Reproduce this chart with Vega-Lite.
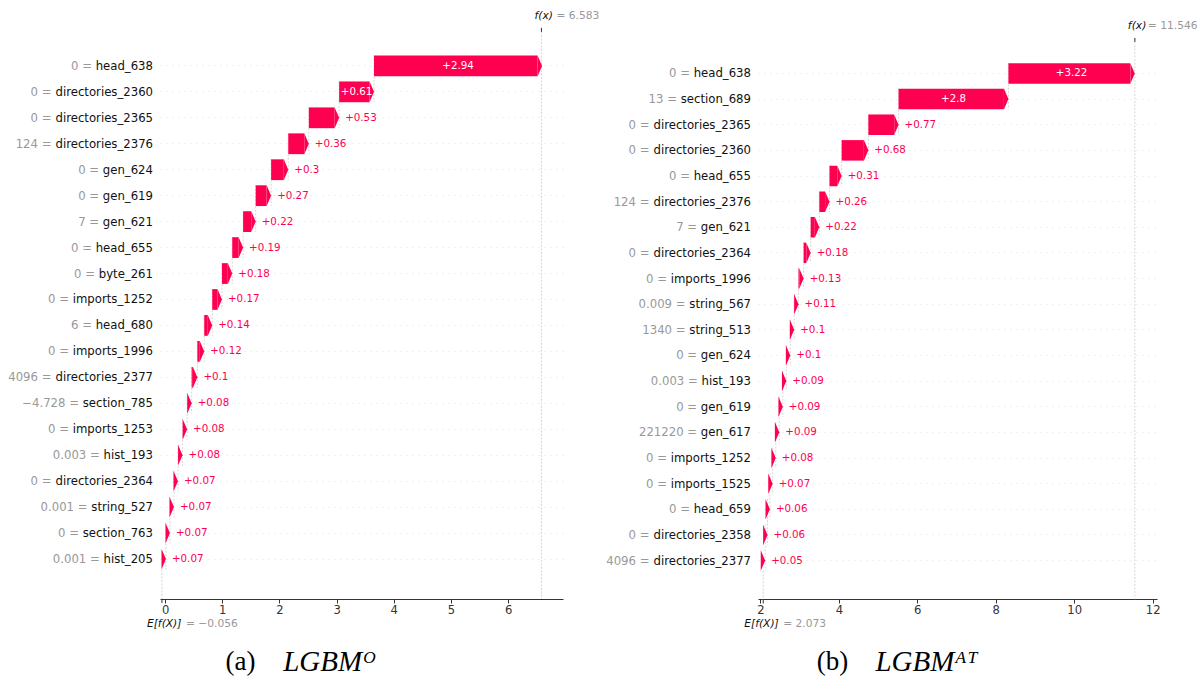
{
  "$schema": "https://vega.github.io/schema/vega-lite/v6.json",
  "background": "white",
  "padding": {"left": 8, "top": 9, "right": 0, "bottom": 0},
  "config": {"view": {"stroke": null}, "font": "DejaVu Sans"},
  "bounds": "flush",
  "spacing": 195,
  "datasets": {
    "a": [
      {"val": "0", "feature": "head_638", "shap": 2.94},
      {"val": "0", "feature": "directories_2360", "shap": 0.61},
      {"val": "0", "feature": "directories_2365", "shap": 0.53},
      {"val": "124", "feature": "directories_2376", "shap": 0.36},
      {"val": "0", "feature": "gen_624", "shap": 0.3},
      {"val": "0", "feature": "gen_619", "shap": 0.27},
      {"val": "7", "feature": "gen_621", "shap": 0.22},
      {"val": "0", "feature": "head_655", "shap": 0.19},
      {"val": "0", "feature": "byte_261", "shap": 0.18},
      {"val": "0", "feature": "imports_1252", "shap": 0.17},
      {"val": "6", "feature": "head_680", "shap": 0.14},
      {"val": "0", "feature": "imports_1996", "shap": 0.12},
      {"val": "4096", "feature": "directories_2377", "shap": 0.1},
      {"val": "−4.728", "feature": "section_785", "shap": 0.08},
      {"val": "0", "feature": "imports_1253", "shap": 0.08},
      {"val": "0.003", "feature": "hist_193", "shap": 0.08},
      {"val": "0", "feature": "directories_2364", "shap": 0.07},
      {"val": "0.001", "feature": "string_527", "shap": 0.07},
      {"val": "0", "feature": "section_763", "shap": 0.07},
      {"val": "0.001", "feature": "hist_205", "shap": 0.07}
    ],
    "b": [
      {"val": "0", "feature": "head_638", "shap": 3.22},
      {"val": "13", "feature": "section_689", "shap": 2.8},
      {"val": "0", "feature": "directories_2365", "shap": 0.77},
      {"val": "0", "feature": "directories_2360", "shap": 0.68},
      {"val": "0", "feature": "head_655", "shap": 0.31},
      {"val": "124", "feature": "directories_2376", "shap": 0.26},
      {"val": "7", "feature": "gen_621", "shap": 0.22},
      {"val": "0", "feature": "directories_2364", "shap": 0.18},
      {"val": "0", "feature": "imports_1996", "shap": 0.13},
      {"val": "0.009", "feature": "string_567", "shap": 0.11},
      {"val": "1340", "feature": "string_513", "shap": 0.1},
      {"val": "0", "feature": "gen_624", "shap": 0.1},
      {"val": "0.003", "feature": "hist_193", "shap": 0.09},
      {"val": "0", "feature": "gen_619", "shap": 0.09},
      {"val": "221220", "feature": "gen_617", "shap": 0.09},
      {"val": "0", "feature": "imports_1252", "shap": 0.08},
      {"val": "0", "feature": "imports_1525", "shap": 0.07},
      {"val": "0", "feature": "head_659", "shap": 0.06},
      {"val": "0", "feature": "directories_2358", "shap": 0.06},
      {"val": "4096", "feature": "directories_2377", "shap": 0.05}
    ]
  },
  "hconcat": [
    {
      "width": 403,
      "height": 571,
      "data": {"name": "a"},
      "transform": [
        {"window": [{"op": "sum", "field": "shap", "as": "below"}], "frame": [1, null]},
        {"window": [{"op": "lead", "field": "feature", "as": "next"}]},
        {"calculate": "-0.056 + (datum.below || 0)", "as": "start"},
        {"calculate": "datum.start + datum.shap", "as": "end"},
        {"calculate": "datum.start + datum.shap / 2", "as": "mid"},
        {"calculate": "datum.val + ' ='", "as": "vlab"},
        {"calculate": "'+' + datum.shap", "as": "txt"},
        {"calculate": "(1300*length(datum.feature) - 731*length(replace(datum.feature, regexp('[^il]','g'), '')) - 458*length(replace(datum.feature, regexp('[^r]','g'), '')) - 497*length(replace(datum.feature, regexp('[^t]','g'), '')) - 233*length(replace(datum.feature, regexp('[^s]','g'), '')) - 174*length(replace(datum.feature, regexp('[^c]','g'), '')) - 276*length(replace(datum.feature, regexp('[^_]','g'), '')) + 695*length(replace(datum.feature, regexp('[^m]','g'), '')) - 88*length(replace(datum.feature, regexp('[^y]','g'), '')) - 43*length(replace(datum.feature, regexp('[^aeo]','g'), ''))) * 11.7 / 2048", "as": "w"},
        {"calculate": "-0.09 - (7 + 3.72 + datum.w) / 57.163", "as": "labx"}
      ],
      "title": {"text": "(a)", "orient": "bottom", "anchor": "middle", "dx": -121, "offset": -27, "font": "Liberation Serif", "fontSize": 27, "fontWeight": "normal", "color": "#000000"},
      "layer": [
        {
          "transform": [{"filter": "datum.next != null"}],
          "mark": {"type": "rule", "color": "#bbbbbb", "strokeWidth": 0.6, "strokeDash": [2, 1.5], "yOffset": -10.4, "y2Offset": 10.4},
          "encoding": {
            "x": {"field": "start", "type": "quantitative",
              "scale": {"domain": [-0.09, 6.96], "nice": false, "zero": false},
              "axis": {"values": [0, 1, 2, 3, 4, 5, 6], "format": "d", "grid": false, "domainColor": "#333333", "tickColor": "#333333", "tickSize": 4, "labelColor": "#333333", "labelFont": "DejaVu Sans", "labelFontSize": 11.6, "labelPadding": 1, "labelFlush": false,
                "title": "LGBMᴼ", "titleFont": "Liberation Serif", "titleFontStyle": "italic", "titleFontWeight": "normal", "titleFontSize": 29, "titleColor": "#000000", "titleX": 169, "titleY": 62, "titleBaseline": "middle", "titleAlign": "center"}},
            "y": {"field": "feature", "type": "nominal", "sort": null,
              "scale": {"type": "band", "paddingInner": 0, "paddingOuter": 1, "align": 0.48},
              "axis": {"title": null, "labels": false, "ticks": false, "domain": false, "grid": true, "gridColor": "#cccccc", "gridWidth": 0.6, "gridDash": [1, 5], "bandPosition": 0.5}},
            "y2": {"field": "next"}
          }
        },
        {
          "transform": [{"filter": "datum.feature == 'head_638'"}],
          "mark": {"type": "rule", "color": "#bbbbbb", "strokeWidth": 0.6, "strokeDash": [2, 1.5], "yOffset": -38, "y2Offset": 40},
          "encoding": {
            "x": {"datum": 6.583, "type": "quantitative"},
            "y": {"field": "feature", "type": "nominal", "sort": null},
            "y2": {"datum": "hist_205"}
          }
        },
        {
          "transform": [{"filter": "datum.feature == 'head_638'"}],
          "mark": {"type": "rule", "color": "#333333", "strokeWidth": 1, "yOffset": -38, "y2Offset": -34},
          "encoding": {
            "x": {"datum": 6.583, "type": "quantitative"},
            "y": {"field": "feature", "type": "nominal", "sort": null},
            "y2": {"field": "feature"}
          }
        },
        {
          "transform": [{"filter": "datum.feature == 'hist_205'"}],
          "mark": {"type": "rule", "color": "#bbbbbb", "strokeWidth": 0.6, "strokeDash": [2, 1.5], "yOffset": 10.4, "y2Offset": 40},
          "encoding": {
            "x": {"datum": -0.056, "type": "quantitative"},
            "y": {"field": "feature", "type": "nominal", "sort": null},
            "y2": {"field": "feature"}
          }
        },
        {
          "transform": [{"filter": "datum.feature == 'hist_205'"}],
          "mark": {"type": "rule", "color": "#333333", "strokeWidth": 1, "yOffset": 40, "y2Offset": 44},
          "encoding": {
            "x": {"datum": -0.056, "type": "quantitative"},
            "y": {"field": "feature", "type": "nominal", "sort": null},
            "y2": {"field": "feature"}
          }
        },
        {
          "transform": [{"filter": "datum.shap >= 0.1"}],
          "mark": {"type": "bar", "color": "#ff0051", "height": {"band": 0.8}, "x2Offset": -4.5},
          "encoding": {
            "x": {"field": "start", "type": "quantitative"},
            "x2": {"field": "end"},
            "y": {"field": "feature", "type": "nominal", "sort": null}
          }
        },
        {
          "mark": {"type": "point", "shape": "M -0.43 -1 L 0 0 L -0.43 1 Z", "filled": true, "opacity": 1, "color": "#ff0051", "size": 431, "strokeWidth": 0},
          "encoding": {
            "x": {"field": "end", "type": "quantitative"},
            "y": {"field": "feature", "type": "nominal", "sort": null}
          }
        },
        {
          "transform": [{"filter": "datum.shap >= 0.6"}],
          "mark": {"type": "text", "color": "#ffffff", "fontSize": 10.3, "align": "center", "baseline": "middle"},
          "encoding": {
            "x": {"field": "mid", "type": "quantitative"},
            "y": {"field": "feature", "type": "nominal", "sort": null},
            "text": {"field": "txt"}
          }
        },
        {
          "transform": [{"filter": "datum.shap < 0.6"}],
          "mark": {"type": "text", "color": "#ff0051", "fontSize": 10.3, "align": "left", "baseline": "middle", "dx": 6},
          "encoding": {
            "x": {"field": "end", "type": "quantitative"},
            "y": {"field": "feature", "type": "nominal", "sort": null},
            "text": {"field": "txt"}
          }
        },
        {
          "mark": {"type": "text", "color": "#999999", "fontSize": 11.7, "align": "right", "baseline": "middle"},
          "encoding": {
            "x": {"field": "labx", "type": "quantitative"},
            "y": {"field": "feature", "type": "nominal", "sort": null},
            "text": {"field": "vlab"}
          }
        },
        {
          "mark": {"type": "text", "color": "#111111", "fontSize": 11.7, "align": "right", "baseline": "middle", "dx": -7},
          "encoding": {
            "x": {"datum": -0.09, "type": "quantitative"},
            "y": {"field": "feature", "type": "nominal", "sort": null},
            "text": {"field": "feature"}
          }
        },
        {
          "transform": [{"filter": "datum.feature == 'head_638'"}],
          "mark": {"type": "text", "color": "#111111", "fontSize": 10.7, "fontStyle": "italic", "align": "left", "baseline": "middle", "dx": -7, "dy": -50, "text": "f(x)"},
          "encoding": {
            "x": {"datum": 6.583, "type": "quantitative"},
            "y": {"field": "feature", "type": "nominal", "sort": null}
          }
        },
        {
          "transform": [{"filter": "datum.feature == 'head_638'"}],
          "mark": {"type": "text", "color": "#999999", "fontSize": 10.7, "align": "left", "baseline": "middle", "dx": 15, "dy": -50, "text": "= 6.583"},
          "encoding": {
            "x": {"datum": 6.583, "type": "quantitative"},
            "y": {"field": "feature", "type": "nominal", "sort": null}
          }
        },
        {
          "transform": [{"filter": "datum.feature == 'hist_205'"}],
          "mark": {"type": "text", "color": "#111111", "fontSize": 10.7, "fontStyle": "italic", "align": "left", "baseline": "middle", "dx": -15, "dy": 65, "text": "E[f(X)]"},
          "encoding": {
            "x": {"datum": -0.056, "type": "quantitative"},
            "y": {"field": "feature", "type": "nominal", "sort": null}
          }
        },
        {
          "transform": [{"filter": "datum.feature == 'hist_205'"}],
          "mark": {"type": "text", "color": "#999999", "fontSize": 10.7, "align": "left", "baseline": "middle", "dx": 24, "dy": 65, "text": "= −0.056"},
          "encoding": {
            "x": {"datum": -0.056, "type": "quantitative"},
            "y": {"field": "feature", "type": "nominal", "sort": null}
          }
        }
      ]
    },
    {
      "width": 399,
      "height": 571,
      "data": {"name": "b"},
      "transform": [
        {"window": [{"op": "sum", "field": "shap", "as": "below"}], "frame": [1, null]},
        {"window": [{"op": "lead", "field": "feature", "as": "next"}]},
        {"calculate": "2.073 + (datum.below || 0)", "as": "start"},
        {"calculate": "datum.start + datum.shap", "as": "end"},
        {"calculate": "datum.start + datum.shap / 2", "as": "mid"},
        {"calculate": "datum.val + ' ='", "as": "vlab"},
        {"calculate": "'+' + datum.shap", "as": "txt"},
        {"calculate": "(1300*length(datum.feature) - 731*length(replace(datum.feature, regexp('[^il]','g'), '')) - 458*length(replace(datum.feature, regexp('[^r]','g'), '')) - 497*length(replace(datum.feature, regexp('[^t]','g'), '')) - 233*length(replace(datum.feature, regexp('[^s]','g'), '')) - 174*length(replace(datum.feature, regexp('[^c]','g'), '')) - 276*length(replace(datum.feature, regexp('[^_]','g'), '')) + 695*length(replace(datum.feature, regexp('[^m]','g'), '')) - 88*length(replace(datum.feature, regexp('[^y]','g'), '')) - 43*length(replace(datum.feature, regexp('[^aeo]','g'), ''))) * 11.7 / 2048", "as": "w"},
        {"calculate": "1.94 - (7 + 3.72 + datum.w) / 39.233", "as": "labx"}
      ],
      "title": {"text": "(b)", "orient": "bottom", "anchor": "middle", "dx": -125, "offset": -27, "font": "Liberation Serif", "fontSize": 27, "fontWeight": "normal", "color": "#000000"},
      "layer": [
        {
          "transform": [{"filter": "datum.next != null"}],
          "mark": {"type": "rule", "color": "#bbbbbb", "strokeWidth": 0.6, "strokeDash": [2, 1.5], "yOffset": -10.25, "y2Offset": 10.25},
          "encoding": {
            "x": {"field": "start", "type": "quantitative",
              "scale": {"domain": [1.94, 12.11], "nice": false, "zero": false},
              "axis": {"values": [2, 4, 6, 8, 10, 12], "format": "d", "grid": false, "domainColor": "#333333", "tickColor": "#333333", "tickSize": 4, "labelColor": "#333333", "labelFont": "DejaVu Sans", "labelFontSize": 11.6, "labelPadding": 1, "labelFlush": false,
                "title": "LGBMᴬᵀ", "titleFont": "Liberation Serif", "titleFontStyle": "italic", "titleFontWeight": "normal", "titleFontSize": 29, "titleColor": "#000000", "titleX": 168, "titleY": 62, "titleBaseline": "middle", "titleAlign": "center"}},
            "y": {"field": "feature", "type": "nominal", "sort": null,
              "scale": {"type": "band", "paddingInner": 0, "paddingOuter": 1, "range": [7, 571]},
              "axis": {"title": null, "labels": false, "ticks": false, "domain": false, "grid": true, "gridColor": "#cccccc", "gridWidth": 0.6, "gridDash": [1, 5], "bandPosition": 0.5}},
            "y2": {"field": "next"}
          }
        },
        {
          "transform": [{"filter": "datum.feature == 'head_638'"}],
          "mark": {"type": "rule", "color": "#bbbbbb", "strokeWidth": 0.6, "strokeDash": [2, 1.5], "yOffset": -35.5, "y2Offset": 39},
          "encoding": {
            "x": {"datum": 11.546, "type": "quantitative"},
            "y": {"field": "feature", "type": "nominal", "sort": null},
            "y2": {"datum": "directories_2377"}
          }
        },
        {
          "transform": [{"filter": "datum.feature == 'head_638'"}],
          "mark": {"type": "rule", "color": "#333333", "strokeWidth": 1, "yOffset": -35.5, "y2Offset": -31.5},
          "encoding": {
            "x": {"datum": 11.546, "type": "quantitative"},
            "y": {"field": "feature", "type": "nominal", "sort": null},
            "y2": {"field": "feature"}
          }
        },
        {
          "transform": [{"filter": "datum.feature == 'directories_2377'"}],
          "mark": {"type": "rule", "color": "#bbbbbb", "strokeWidth": 0.6, "strokeDash": [2, 1.5], "yOffset": 10.25, "y2Offset": 39},
          "encoding": {
            "x": {"datum": 2.073, "type": "quantitative"},
            "y": {"field": "feature", "type": "nominal", "sort": null},
            "y2": {"field": "feature"}
          }
        },
        {
          "transform": [{"filter": "datum.feature == 'directories_2377'"}],
          "mark": {"type": "rule", "color": "#333333", "strokeWidth": 1, "yOffset": 39, "y2Offset": 43},
          "encoding": {
            "x": {"datum": 2.073, "type": "quantitative"},
            "y": {"field": "feature", "type": "nominal", "sort": null},
            "y2": {"field": "feature"}
          }
        },
        {
          "transform": [{"filter": "datum.shap >= 0.13"}],
          "mark": {"type": "bar", "color": "#ff0051", "height": {"band": 0.8}, "x2Offset": -4.5},
          "encoding": {
            "x": {"field": "start", "type": "quantitative"},
            "x2": {"field": "end"},
            "y": {"field": "feature", "type": "nominal", "sort": null}
          }
        },
        {
          "mark": {"type": "point", "shape": "M -0.43 -1 L 0 0 L -0.43 1 Z", "filled": true, "opacity": 1, "color": "#ff0051", "size": 420, "strokeWidth": 0},
          "encoding": {
            "x": {"field": "end", "type": "quantitative"},
            "y": {"field": "feature", "type": "nominal", "sort": null}
          }
        },
        {
          "transform": [{"filter": "datum.shap >= 1"}],
          "mark": {"type": "text", "color": "#ffffff", "fontSize": 10.3, "align": "center", "baseline": "middle"},
          "encoding": {
            "x": {"field": "mid", "type": "quantitative"},
            "y": {"field": "feature", "type": "nominal", "sort": null},
            "text": {"field": "txt"}
          }
        },
        {
          "transform": [{"filter": "datum.shap < 1"}],
          "mark": {"type": "text", "color": "#ff0051", "fontSize": 10.3, "align": "left", "baseline": "middle", "dx": 6},
          "encoding": {
            "x": {"field": "end", "type": "quantitative"},
            "y": {"field": "feature", "type": "nominal", "sort": null},
            "text": {"field": "txt"}
          }
        },
        {
          "mark": {"type": "text", "color": "#999999", "fontSize": 11.7, "align": "right", "baseline": "middle"},
          "encoding": {
            "x": {"field": "labx", "type": "quantitative"},
            "y": {"field": "feature", "type": "nominal", "sort": null},
            "text": {"field": "vlab"}
          }
        },
        {
          "mark": {"type": "text", "color": "#111111", "fontSize": 11.7, "align": "right", "baseline": "middle", "dx": -7},
          "encoding": {
            "x": {"datum": 1.94, "type": "quantitative"},
            "y": {"field": "feature", "type": "nominal", "sort": null},
            "text": {"field": "feature"}
          }
        },
        {
          "transform": [{"filter": "datum.feature == 'head_638'"}],
          "mark": {"type": "text", "color": "#111111", "fontSize": 10.7, "fontStyle": "italic", "align": "left", "baseline": "middle", "dx": -7, "dy": -47.5, "text": "f(x)"},
          "encoding": {
            "x": {"datum": 11.546, "type": "quantitative"},
            "y": {"field": "feature", "type": "nominal", "sort": null}
          }
        },
        {
          "transform": [{"filter": "datum.feature == 'head_638'"}],
          "mark": {"type": "text", "color": "#999999", "fontSize": 10.7, "align": "left", "baseline": "middle", "dx": 13, "dy": -47.5, "text": "= 11.546"},
          "encoding": {
            "x": {"datum": 11.546, "type": "quantitative"},
            "y": {"field": "feature", "type": "nominal", "sort": null}
          }
        },
        {
          "transform": [{"filter": "datum.feature == 'directories_2377'"}],
          "mark": {"type": "text", "color": "#111111", "fontSize": 10.7, "fontStyle": "italic", "align": "left", "baseline": "middle", "dx": -19, "dy": 63.5, "text": "E[f(X)]"},
          "encoding": {
            "x": {"datum": 2.073, "type": "quantitative"},
            "y": {"field": "feature", "type": "nominal", "sort": null}
          }
        },
        {
          "transform": [{"filter": "datum.feature == 'directories_2377'"}],
          "mark": {"type": "text", "color": "#999999", "fontSize": 10.7, "align": "left", "baseline": "middle", "dx": 20, "dy": 63.5, "text": "= 2.073"},
          "encoding": {
            "x": {"datum": 2.073, "type": "quantitative"},
            "y": {"field": "feature", "type": "nominal", "sort": null}
          }
        }
      ]
    }
  ]
}
